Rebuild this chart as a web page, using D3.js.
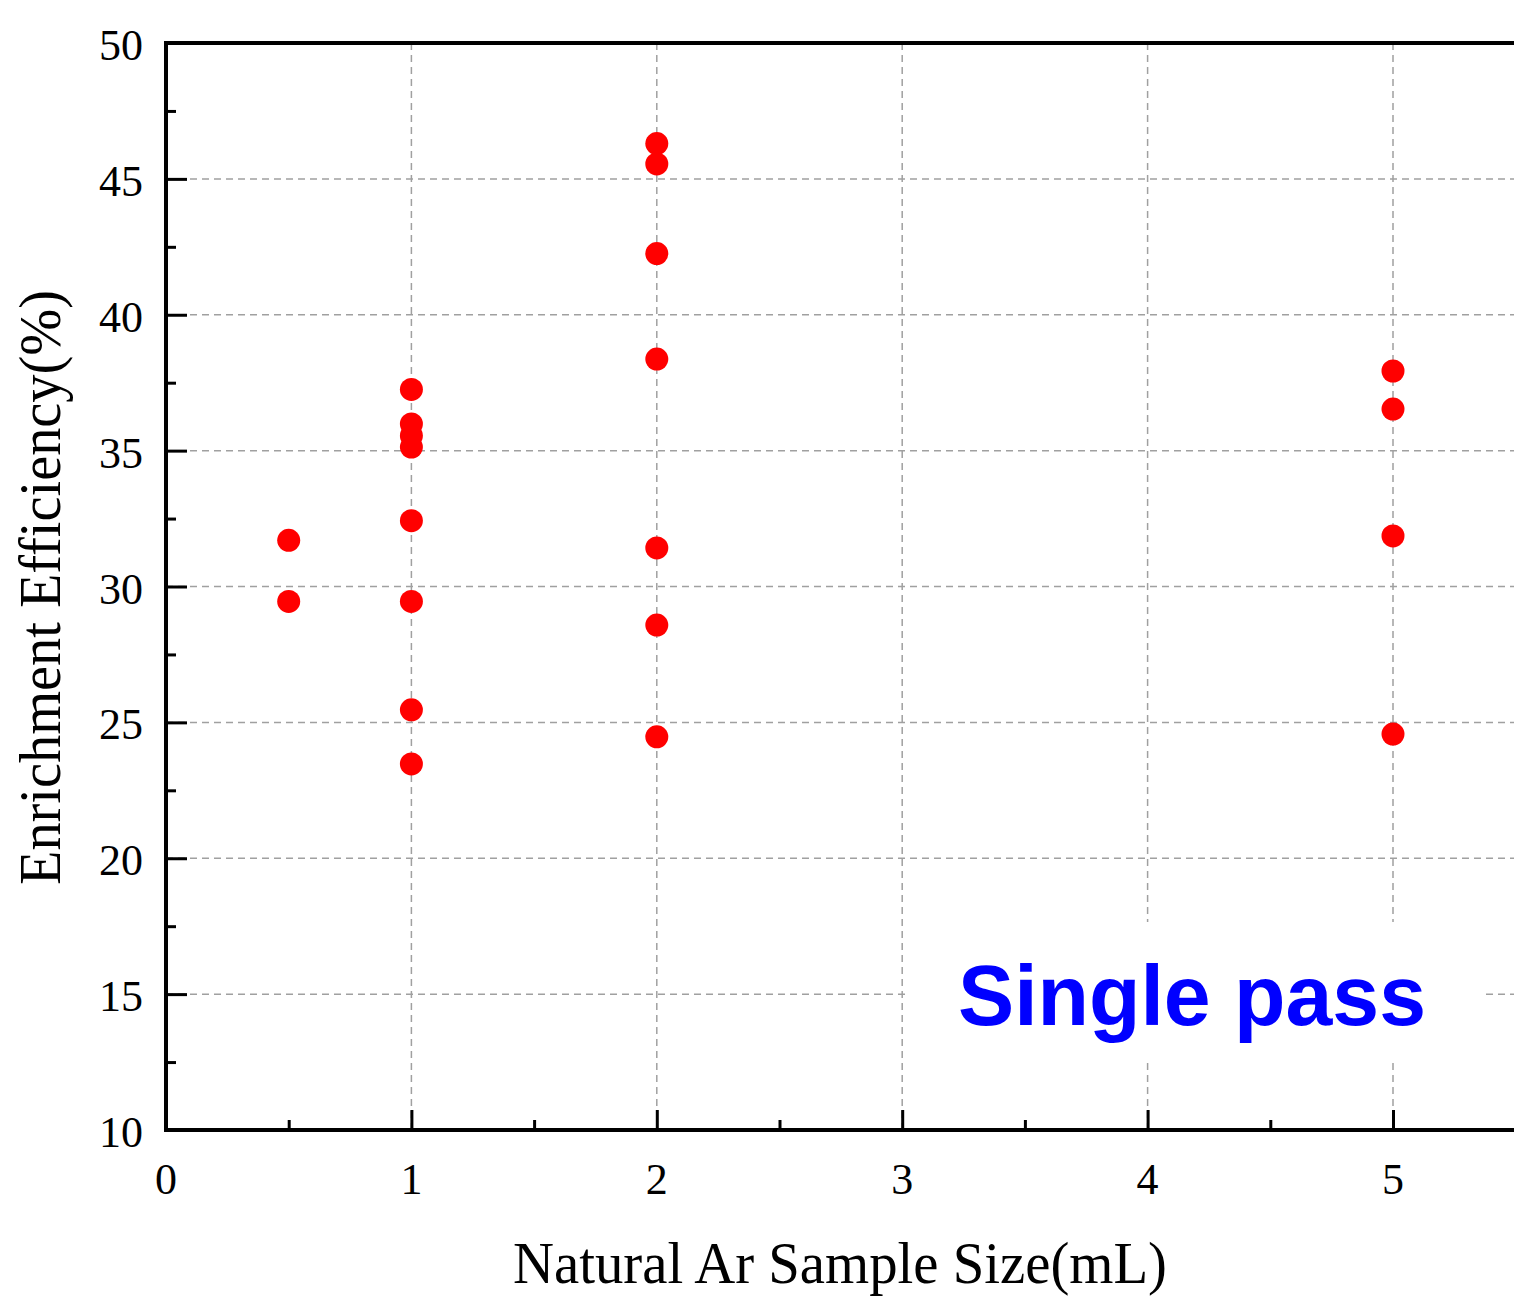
<!DOCTYPE html>
<html>
<head>
<meta charset="utf-8">
<script src="https://cdn.jsdelivr.net/npm/d3@7"></script>
<style>
  body { margin: 0; background: #fff; }
  svg { display: block; }
</style>
</head>
<body>
<div id="chart"></div>
<script>
// Sample size (mL) and enrichment efficiency (%) for single pass runs
const sampleSize = [
  0.5, 0.5,
  1, 1, 1, 1, 1, 1, 1, 1,
  2, 2, 2, 2, 2, 2, 2,
  5, 5, 5, 5
]
const efficiency = [
  31.7, 29.45,
  37.25, 35.98, 35.55, 35.13, 32.42, 29.45, 25.46, 23.47,
  46.3, 45.55, 42.25, 38.37, 31.42, 28.58, 24.47,
  37.93, 36.53, 31.86, 24.57
]
const xTicks = [0, 1, 2, 3, 4, 5]
const yTicks = [10, 15, 20, 25, 30, 35, 40, 45, 50]

const width = 1514
const height = 1306
const margin = { top: 43, right: 0, bottom: 176, left: 166 }

const svg = d3
  .select('#chart')
  .append('svg')
  .attr('width', width)
  .attr('height', height)

// Scales
const x = d3.scaleLinear().domain([0, 5.5]).range([166, 166 + 5.5 * 245.4])
const y = d3.scaleLinear().domain([10, 50]).range([1130, 43])

const serif = '"Liberation Serif", "Times New Roman", serif'

// Grid lines
const grid = svg.append('g').attr('class', 'grid')
grid
  .selectAll('line.gx')
  .data(xTicks.filter((d) => d > 0))
  .join('line')
  .attr('x1', (d) => x(d))
  .attr('x2', (d) => x(d))
  .attr('y1', y(50))
  .attr('y2', y(10))
grid
  .selectAll('line.gy')
  .data(yTicks.filter((d) => d > 10 && d < 50))
  .join('line')
  .attr('x1', x(0))
  .attr('x2', width)
  .attr('y1', (d) => y(d))
  .attr('y2', (d) => y(d))
grid
  .selectAll('line')
  .attr('stroke', '#a0a0a0')
  .attr('stroke-width', 1.5)
  .attr('stroke-dasharray', '7,5')

// Label box hides the grid behind it
svg
  .append('rect')
  .attr('x', 905)
  .attr('y', 922)
  .attr('width', 580)
  .attr('height', 136)
  .attr('fill', '#fff')

svg
  .append('text')
  .attr('x', 958)
  .attr('y', 1025)
  .attr('font-family', '"Liberation Sans", Arial, sans-serif')
  .attr('font-weight', 'bold')
  .attr('font-size', 86)
  .attr('fill', '#0000ff')
  .attr('textLength', 468)
  .attr('lengthAdjust', 'spacingAndGlyphs')
  .text('Single pass')

// Axes: ticks drawn inward
const xAxis = d3
  .axisBottom(x)
  .tickValues(d3.range(0, 5.51, 0.5))
  .tickSize(-20)
  .tickFormat('')
const yAxis = d3
  .axisLeft(y)
  .tickValues(d3.range(10, 50.01, 2.5))
  .tickSize(-21)
  .tickFormat('')

const gx = svg
  .append('g')
  .attr('transform', `translate(0,${y(10)})`)
  .call(xAxis)
gx.selectAll('.tick line')
  .attr('y2', (d) => (d % 1 === 0 ? -20 : -10))
  .attr('stroke-width', 3)

const gy = svg
  .append('g')
  .attr('transform', `translate(${x(0)},0)`)
  .call(yAxis)
gy.selectAll('.tick line')
  .attr('x2', (d) => (d % 5 === 0 ? 21 : 10))
  .attr('stroke-width', 3)

svg.selectAll('.domain').remove()

// Frame lines (left, bottom, top)
const frame = svg.append('g').attr('stroke', '#000').attr('stroke-width', 4)
frame.append('line').attr('x1', x(0)).attr('x2', x(0)).attr('y1', y(50) - 2).attr('y2', y(10) + 2)
frame.append('line').attr('x1', x(0)).attr('x2', width).attr('y1', y(10)).attr('y2', y(10))
frame.append('line').attr('x1', x(0)).attr('x2', width).attr('y1', y(50)).attr('y2', y(50))

// Tick labels
svg
  .append('g')
  .selectAll('text')
  .data(xTicks)
  .join('text')
  .attr('x', (d) => x(d))
  .attr('y', y(10) + 64)
  .attr('text-anchor', 'middle')
  .attr('font-family', serif)
  .attr('font-size', 44)
  .text((d) => d)

svg
  .append('g')
  .selectAll('text')
  .data(yTicks)
  .join('text')
  .attr('x', 143)
  .attr('y', (d) => y(d) + 17)
  .attr('text-anchor', 'end')
  .attr('font-family', serif)
  .attr('font-size', 44)
  .text((d) => d)

// Axis titles
svg
  .append('text')
  .attr('x', 513)
  .attr('y', 1283)
  .attr('font-family', serif)
  .attr('font-size', 60)
  .attr('textLength', 654)
  .attr('lengthAdjust', 'spacingAndGlyphs')
  .text('Natural Ar Sample Size(mL)')

svg
  .append('text')
  .attr('transform', 'translate(60,885) rotate(-90)')
  .attr('font-family', serif)
  .attr('font-size', 60)
  .attr('textLength', 595)
  .attr('lengthAdjust', 'spacingAndGlyphs')
  .text('Enrichment Efficiency(%)')

// Points
svg
  .append('g')
  .selectAll('circle')
  .data(d3.range(sampleSize.length))
  .join('circle')
  .attr('cx', (i) => x(sampleSize[i]))
  .attr('cy', (i) => y(efficiency[i]))
  .attr('r', 11.5)
  .attr('fill', '#ff0000')
</script>
</body>
</html>
